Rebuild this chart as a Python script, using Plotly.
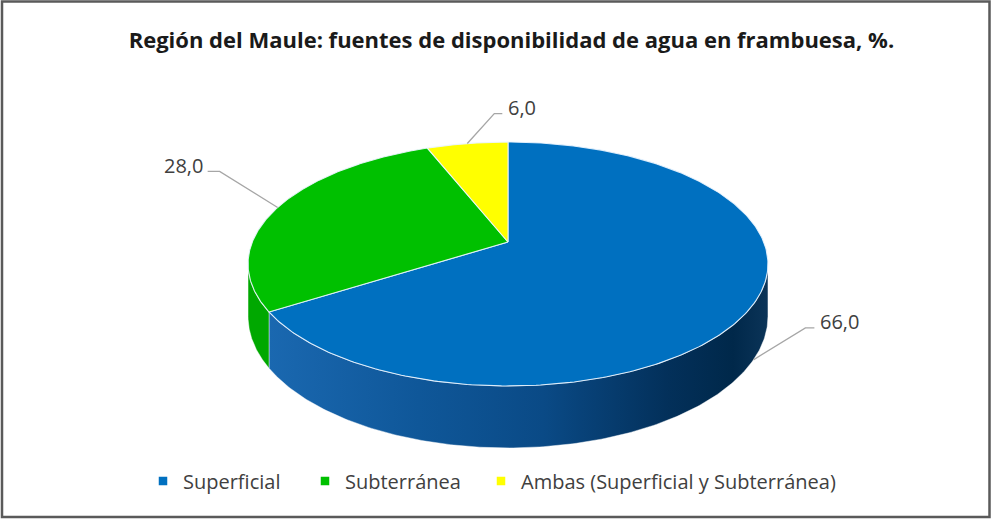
import numpy as np
import plotly.graph_objects as go

# ---------------- data ----------------
categories = ["Superficial", "Subterránea", "Ambas (Superficial y Subterránea)"]
values = [66.0, 28.0, 6.0]
value_labels = ["66,0", "28,0", "6,0"]
top_colors = ["#0070C0", "#00C000", "#FFFF00"]
side_colors = ["#0A4A88", "#00A800", "#D8D800"]
title_text = "Región del Maule: fuentes de disponibilidad de agua en frambuesa, %."

# ---------------- geometry / style ----------------
W, H = 993, 519
CX, CY = 508.0, 242.0      # projected centre of the top face
SX, SY = 255.7, 118.0      # projected radii
K = 0.1803                 # perspective factor
DEPTH = 50.8               # thickness of the 3D pie
FONT = "Open Sans"
TXT = "#404040"

# side gradient for the blue slice (left -> right)
blue_side_scale = [[0.0, "#1a68b0"], [0.3, "#0f5799"], [0.55, "#0a4a86"],
                   [0.8, "#03305a"], [0.93, "#00284a"], [1.0, "#0b3458"]]

# label leader offsets (elbow dx, dy, tail length) per slice
leader_style = [(52, -32, 9), (-58, -36, -12), (27, -30, 8)]

# legend box left edges (px) for the three legend entries
legend_left = [143, 305, 481]


def proj(phi_deg, drop=0.0):
    p = np.radians(phi_deg)
    X, Z = np.cos(p), np.sin(p)
    w = 1 + K * Z
    return CX + SX * X / w, CY - SY * Z / w + drop / w


total = sum(values)
cum = np.concatenate([[0], np.cumsum(values)])
starts = 90 - 360 * cum[:-1] / total   # clockwise from 12 o'clock
ends = 90 - 360 * cum[1:] / total

# visible front side range (silhouette angles)
sil = np.degrees(np.arcsin(K))
vis_lo, vis_hi = -180 + sil, -sil

fig = go.Figure()

# ---- side faces ----
for i in range(len(values)):
    a_hi, a_lo = starts[i], ends[i]
    for shift in (0, -360, 360):
        lo = max(a_lo + shift, vis_lo)
        hi = min(a_hi + shift, vis_hi)
        if hi > lo:
            ph = np.linspace(lo, hi, 200)
            xt, yt = proj(ph)
            xb, yb = proj(ph[::-1], DEPTH)
            xs = np.concatenate([xt, xb, xt[:1]])
            ys = np.concatenate([yt, yb, yt[:1]])
            tr = dict(x=xs, y=ys, mode="lines", fill="toself",
                      line=dict(color="rgba(255,255,255,0.55)", width=0.8),
                      hoverinfo="skip", showlegend=False)
            if i == 0:
                tr["fillgradient"] = dict(type="horizontal", colorscale=blue_side_scale)
            else:
                tr["fillcolor"] = side_colors[i]
            fig.add_trace(go.Scatter(**tr))

# ---- top faces ----
for i in range(len(values)):
    ph = np.linspace(starts[i], ends[i], 300)
    xa, ya = proj(ph)
    xs = np.concatenate([[CX], xa, [CX]])
    ys = np.concatenate([[CY], ya, [CY]])
    fig.add_trace(go.Scatter(x=xs, y=ys, mode="lines", fill="toself",
                             fillcolor=top_colors[i],
                             line=dict(color="rgba(235,245,255,0.9)", width=1.1),
                             hoverinfo="skip", showlegend=False))

# ---- leader lines + labels ----
for i in range(len(values)):
    mid = (starts[i] + ends[i]) / 2
    s = np.sin(np.radians(mid))
    drop = DEPTH if s < -K else 0.0
    ax, ay = proj(mid, drop)
    dx, dy, tail = leader_style[i]
    ex, ey = ax + dx, ay + dy
    tx = ex + tail
    fig.add_trace(go.Scatter(x=[ax, ex, tx], y=[ay, ey, ey], mode="lines",
                             line=dict(color="#A6A6A6", width=1.3),
                             hoverinfo="skip", showlegend=False))
    right = tail > 0
    fig.add_annotation(x=tx + (4 if right else -3), y=ey - 6, text=value_labels[i],
                       showarrow=False, xanchor="left" if right else "right",
                       yanchor="middle", font=dict(family=FONT, size=20, color=TXT))

# ---- legend entries (one legend per entry, placed like the original) ----
legend_names = ["legend", "legend2", "legend3"]
legend_layout = {}
for i, c in enumerate(categories):
    fig.add_trace(go.Scatter(x=[None], y=[None], mode="markers", name=c,
                             marker=dict(symbol="square", size=8.5, color=top_colors[i]),
                             showlegend=True, legend=legend_names[i]))
    legend_layout[legend_names[i]] = dict(
        orientation="h", x=legend_left[i] / W, xanchor="left", y=1 - 481 / H,
        yanchor="middle", font=dict(family=FONT, size=20, color=TXT),
        itemwidth=30, bgcolor="rgba(0,0,0,0)", borderwidth=0)

fig.update_layout(
    width=W, height=H,
    margin=dict(l=0, r=0, t=0, b=0),
    paper_bgcolor="white", plot_bgcolor="white",
    xaxis=dict(range=[0, W], visible=False, fixedrange=True),
    yaxis=dict(range=[H, 0], visible=False, fixedrange=True),
    title=dict(text="<b>" + title_text + "</b>", x=0.515, xanchor="center",
               y=1 - 40 / H, yanchor="middle",
               font=dict(family=FONT, size=22, color="#1a1a1a")),
    shapes=[dict(type="rect", xref="x", yref="y", x0=2, y0=1.5, x1=989.5, y1=517,
                 line=dict(color="#5a5a5a", width=2.5))],
    **legend_layout,
)

fig.write_html("out.html", config={"displayModeBar": False},
               post_script="document.body.style.margin='0';document.body.style.overflow='hidden';")
